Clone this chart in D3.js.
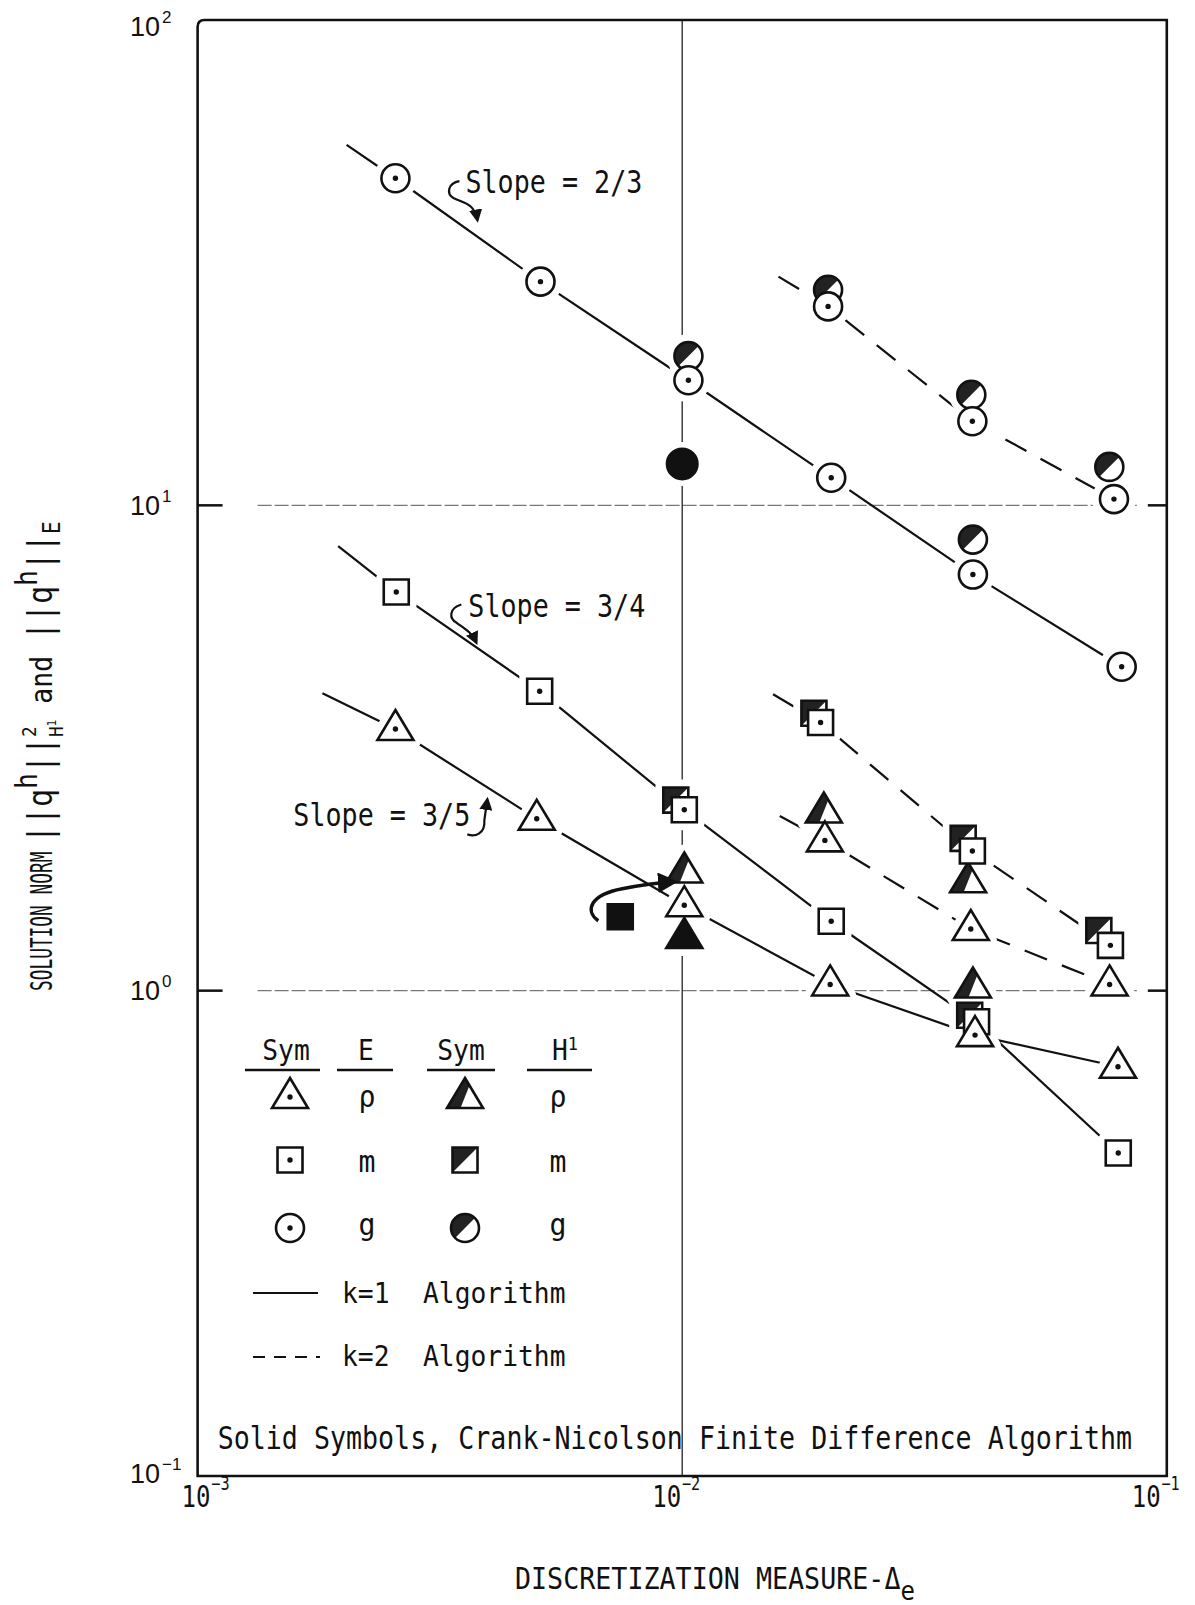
<!DOCTYPE html>
<html><head><meta charset="utf-8">
<script src="https://cdn.jsdelivr.net/npm/d3@7"></script>
<style>body{margin:0;background:#fff}</style>
</head><body>
<svg id="c" width="1195" height="1605"></svg>
<script>
// ---------------- data ----------------
const xTicks = [1e-3, 1e-2, 1e-1];
const xTickExp = ["\u22123", "\u22122", "\u22121"];
const yTicks = [1e2, 1e1, 1e0, 1e-1];
const yTickExp = ["2", "1", "0", "\u22121"];

// k=1 algorithm, E norm (open symbols)
const gE1X = [0.00256, 0.0051, 0.0103, 0.0203, 0.0398, 0.0807];
const gE1 = [47.2, 28.9, 18.1, 11.4, 7.20, 4.65];
const mE1X = [0.00257, 0.00508, 0.0101, 0.0203, 0.0405, 0.0794];
const mE1 = [6.63, 4.14, 2.36, 1.39, 0.863, 0.463];
const rhoE1X = [0.00256, 0.00501, 0.0101, 0.0202, 0.0402, 0.0793];
const rhoE1 = [3.46, 2.26, 1.50, 1.03, 0.810, 0.697];
// k=1 line upper-left extensions (g, m, rho)
const k1StartX = [0.00203, 0.00195, 0.00181];
const k1StartY = [55.3, 8.24, 4.10];

// k=1 algorithm, H1 norm (half-filled symbols)
const gH1k1X = [0.0103, 0.0398];
const gH1k1 = [20.3, 8.50];
const mH1k1X = [0.0097, 0.0392];
const mH1k1 = [2.47, 0.89];
const rhoH1k1X = [0.0101, 0.0398];
const rhoH1k1 = [1.76, 1.02];

// Crank-Nicolson (solid symbols)
const cnType = ["g", "m", "rho"];
const cnX = [0.01, 0.00745, 0.0101];
const cnY = [12.17, 1.42, 1.29];

// k=2 algorithm, E norm
const gE2X = [0.02, 0.0397, 0.0778];
const gE2 = [25.7, 14.9, 10.3];
const mE2X = [0.0193, 0.0397, 0.0765];
const mE2 = [3.57, 1.94, 1.24];
const rhoE2X = [0.0197, 0.0394, 0.0762];
const rhoE2 = [2.04, 1.34, 1.03];
// k=2 algorithm, H1 norm
const gH2X = [0.02, 0.0395, 0.0761];
const gH2 = [27.8, 16.9, 12.0];
const mH2X = [0.0187, 0.0380, 0.0724];
const mH2 = [3.73, 2.06, 1.33];
const rhoH2X = [0.0196, 0.0389];
const rhoH2 = [2.34, 1.68];
// k=2 line upper-left extensions (g, m, rho)
const k2StartX = [0.0158, 0.0154, 0.0159];
const k2StartY = [29.6, 4.08, 2.29];

// slope annotations
const slopeText = ["Slope = 2/3", "Slope = 3/4", "Slope = 3/5"];
const slopeX = [0.00357, 0.00362, 0.001576];
const slopeY = [44.0, 5.90, 2.18];

// ---------------- drawing ----------------
const MONO = "'DejaVu Sans Mono', monospace";
const SANS = "'Liberation Sans', Arial, sans-serif";
const svg = d3.select("#c");
svg.append("rect").attr("width", 1195).attr("height", 1605).attr("fill", "#fff");

const x = d3.scaleLog().domain([1e-3, 1e-1]).range([197.6, 1166.8]);
const y = d3.scaleLog().domain([1e-1, 1e2]).range([1476, 20]);
const [X0, X1] = x.range();
const [Y1, Y0] = y.range();

function txt(parent, px, py, str, fs, sx, opts = {}) {
  const g = parent.append("g")
    .attr("transform", `translate(${px},${py})${opts.rot ? " rotate(" + opts.rot + ")" : ""} scale(${sx},1)`);
  const t = g.append("text")
    .attr("font-family", opts.ff || MONO)
    .attr("font-size", fs)
    .attr("fill", "#111")
    .attr("text-anchor", opts.anchor || "start");
  if (str) t.text(str);
  return t;
}

// defs: arrowheads
const defs = svg.append("defs");
defs.append("marker").attr("id", "ah").attr("viewBox", "0 0 10 10")
  .attr("refX", 8).attr("refY", 5).attr("markerWidth", 6).attr("markerHeight", 6)
  .attr("orient", "auto").attr("markerUnits", "strokeWidth")
  .append("path").attr("d", "M0,0 L10,5 L0,10 Z").attr("fill", "#111");

// gridlines (partial, dashed)
const grid = svg.append("g");
[10, 1].forEach(v => {
  grid.append("line").attr("x1", X0 + 60).attr("x2", X1 - 30)
    .attr("y1", y(v)).attr("y2", y(v))
    .attr("stroke", "#777").attr("stroke-width", 1.4).attr("stroke-dasharray", "14 3");
});
// vertical 10^-2 line
grid.append("line").attr("x1", x(1e-2)).attr("x2", x(1e-2)).attr("y1", Y0).attr("y2", Y1)
  .attr("stroke", "#222").attr("stroke-width", 1.3);

// ticks
[10, 1].forEach(v => {
  grid.append("line").attr("x1", X0).attr("x2", X0 + 25).attr("y1", y(v)).attr("y2", y(v))
    .attr("stroke", "#111").attr("stroke-width", 2.5);
  grid.append("line").attr("x1", X1 - 19).attr("x2", X1).attr("y1", y(v)).attr("y2", y(v))
    .attr("stroke", "#111").attr("stroke-width", 2.5);
});

// frame
svg.append("path")
  .attr("d", `M${X0},${Y1} L${X0},${Y0 + 7} Q${X0},${Y0} ${X0 + 7},${Y0} L${X1},${Y0} L${X1},${Y1} Z`)
  .attr("fill", "none").attr("stroke", "#111").attr("stroke-width", 2.6);

// tick labels
const xDx = [-16, -30, -35];
xTicks.forEach((v, i) => {
  const t = txt(svg, x(v) + xDx[i], 1507, "", 30, 0.8, { anchor: "start" });
  t.append("tspan").text("10");
  t.append("tspan").attr("font-size", 19).attr("dy", -17).attr("dx", 1).text(xTickExp[i]);
});
const yDy = [16, 10, 9, 7];
yTicks.forEach((v, i) => {
  svg.append("text").attr("x", 160).attr("y", y(v) + yDy[i])
    .attr("font-family", SANS).attr("font-size", 27).attr("fill", "#111").attr("text-anchor", "end")
    .text("10");
  svg.append("text").attr("x", 162).attr("y", y(v) + yDy[i] - 13)
    .attr("font-family", SANS).attr("font-size", 17).attr("fill", "#111").text(yTickExp[i]);
});

// axis titles
{
  const t = txt(svg, 515, 1589, "", 30, 0.89);
  t.append("tspan").text("DISCRETIZATION MEASURE-\u0394");
  t.append("tspan").attr("dy", 11).attr("font-size", 27).text("e");
}
{
  txt(svg, 52, 991, "SOLUTION NORM", 31, 0.575, { rot: -90 });
  const t = txt(svg, 52, 843, "", 34, 0.88, { rot: -90 });
  t.append("tspan").text("||q");
  t.append("tspan").attr("dy", -15).attr("font-size", 30).text("h");
  t.append("tspan").attr("dy", 15).text("||");
  t.append("tspan").attr("dy", -16).attr("font-size", 20).text("2");
  t.append("tspan").attr("dy", 27).attr("dx", -12).attr("font-size", 20).text("H");
  t.append("tspan").attr("dy", -7).attr("font-size", 13).text("1");
  t.append("tspan").attr("dy", -4).attr("font-size", 30).text(" and ");
  t.append("tspan").text("||q");
  t.append("tspan").attr("dy", -15).attr("font-size", 30).text("h");
  t.append("tspan").attr("dy", 15).text("||");
  t.append("tspan").attr("dy", 8).attr("font-size", 24).text("E");
}

// ---------------- series lines ----------------
const lineGen = d3.line().x(d => x(d[0])).y(d => y(d[1]));
const lines = svg.append("g").attr("fill", "none").attr("stroke", "#111").attr("stroke-width", 2.2);
[[gE1X, gE1], [mE1X, mE1], [rhoE1X, rhoE1]].forEach(([xs, ys], i) => {
  const pts = [[k1StartX[i], k1StartY[i]]].concat(xs.map((xv, j) => [xv, ys[j]]));
  lines.append("path").attr("d", lineGen(pts));
});
[[gE2X, gE2], [mE2X, mE2], [rhoE2X, rhoE2]].forEach(([xs, ys], i) => {
  const pts = [[k2StartX[i], k2StartY[i]]].concat(xs.map((xv, j) => [xv, ys[j]]));
  lines.append("path").attr("d", lineGen(pts)).attr("stroke-dasharray", "24 16");
});

// ---------------- symbols ----------------
const TRI = { hw: 18, top: -19, bot: 11 };
const SQ = 25, R = 14;
function outlinePath(type) {
  if (type === "rho") return `M0,${TRI.top} L${TRI.hw},${TRI.bot} L${-TRI.hw},${TRI.bot} Z`;
  if (type === "m") return `M${-SQ / 2},${-SQ / 2} h${SQ} v${SQ} h${-SQ} Z`;
  return `M${-R},0 A${R},${R} 0 1 1 ${R},0 A${R},${R} 0 1 1 ${-R},0 Z`;
}
function halfPath(type) {
  if (type === "rho") {
    const h = TRI.bot - TRI.top;
    return `M0,${TRI.top} L${-TRI.hw},${TRI.bot} L${-TRI.hw + 0.75 * TRI.hw},${TRI.bot} L${0.25 * TRI.hw},${TRI.top + 0.25 * h} Z`;
  }
  if (type === "m") return `M${-SQ / 2},${SQ / 2} L${-SQ / 2},${-SQ / 2} L${SQ / 2},${-SQ / 2} Z`;
  const c = R * Math.SQRT1_2;
  return `M${-c},${c} A${R},${R} 0 0 1 ${c},${-c} Z`;
}

const symbols = [];
const add = (type, mode, xs, ys) => xs.forEach((xv, i) => symbols.push({ type, mode, x: xv, y: ys[i] }));
// half (H1) first so open symbols sit on top
add("g", "H", gH2X, gH2); add("m", "H", mH2X, mH2); add("rho", "H", rhoH2X, rhoH2);
add("g", "H", gH1k1X, gH1k1); add("m", "H", mH1k1X, mH1k1); add("rho", "H", rhoH1k1X, rhoH1k1);
cnType.forEach((t, i) => symbols.push({ type: t, mode: "CN", x: cnX[i], y: cnY[i] }));
add("g", "E", gE1X, gE1); add("m", "E", mE1X, mE1); add("rho", "E", rhoE1X, rhoE1);
add("g", "E", gE2X, gE2); add("m", "E", mE2X, mE2); add("rho", "E", rhoE2X, rhoE2);

function drawSymbol(g, type, mode, big) {
  const sc = big ? 1.08 : 1;
  const s = g.append("g").attr("transform", `scale(${sc})`);
  if (mode === "CN") {
    s.append("path").attr("d", outlinePath(type)).attr("fill", "#111").attr("stroke", "#111").attr("stroke-width", 2.6);
    return;
  }
  s.append("path").attr("d", outlinePath(type)).attr("fill", "#fff");
  if (mode === "H") s.append("path").attr("d", halfPath(type)).attr("fill", "#222");
  s.append("path").attr("d", outlinePath(type)).attr("fill", "none").attr("stroke", "#111").attr("stroke-width", 2.6);
  if (mode === "E") s.append("circle").attr("r", 2.7).attr("fill", "#111");
}

const symLayer = svg.append("g");
// halos
symLayer.selectAll("path.halo").data(symbols).join("path").attr("class", "halo")
  .attr("transform", d => `translate(${x(d.x)},${y(d.y)})`)
  .attr("d", d => outlinePath(d.type))
  .attr("fill", "#fff").attr("stroke", "#fff").attr("stroke-width", 16).attr("stroke-linejoin", "round");
symLayer.selectAll("g.sym").data(symbols).join("g").attr("class", "sym")
  .attr("transform", d => `translate(${x(d.x)},${y(d.y)})`)
  .each(function (d) { drawSymbol(d3.select(this), d.type, d.mode, d.mode === "CN" && d.type === "g"); });

// ---------------- annotations ----------------
const ann = svg.append("g");
slopeText.forEach((s, i) => {
  txt(ann, x(slopeX[i]), y(slopeY[i]), s, 32, 0.835);
});
const arrowStyle = p => p.attr("fill", "none").attr("stroke", "#111").attr("stroke-width", 2.2).attr("marker-end", "url(#ah)");
{
  const ax = x(slopeX[0]), ay = y(slopeY[0]);
  arrowStyle(ann.append("path").attr("transform", `translate(${ax},${ay})`)
    .attr("d", "M-6,-12 C-18,-10 -19,1 -12,5 C-2,10 9,10 12,27"));
}
{
  const ax = x(slopeX[1]), ay = y(slopeY[1]);
  arrowStyle(ann.append("path").attr("transform", `translate(${ax},${ay})`)
    .attr("d", "M-7,-12 C-20,-8 -19,2 -12,6 C-4,12 3,15 8,26"));
}
{
  const ax = x(slopeX[2]) + 173, ay = y(slopeY[2]);
  arrowStyle(ann.append("path").attr("transform", `translate(${ax},${ay})`)
    .attr("d", "M1,8 C9,11 19,7 18,-6 L21,-27"));
}
{
  // curved arrow from displaced CN square to its true position at 10^-2
  const ax = x(cnX[1]), ay = y(cnY[1]);
  ann.append("path").attr("transform", `translate(${ax},${ay})`)
    .attr("d", "M-22,4 C-36,-6 -30,-22 2,-28 C22,-32 38,-34 54,-35")
    .attr("fill", "none").attr("stroke", "#111").attr("stroke-width", 3.4).attr("marker-end", "url(#ah)");
}
txt(ann, x(0.0011), y(0.1136), "Solid Symbols, Crank-Nicolson Finite Difference Algorithm", 32, 0.833);

// ---------------- legend ----------------
const lg = svg.append("g");
const hdr = [["Sym", 286, 245, 320], ["E", 366, 337, 393], ["Sym", 461, 427, 495]];
hdr.forEach(([s, cx, u0, u1]) => {
  txt(lg, cx, 1060, s, 28, 0.94, { anchor: "middle" });
  lg.append("line").attr("x1", u0).attr("x2", u1).attr("y1", 1070).attr("y2", 1070).attr("stroke", "#111").attr("stroke-width", 2.6);
});
{
  const t = txt(lg, 552, 1060, "", 28, 0.94, { anchor: "start" });
  t.append("tspan").text("H");
  t.append("tspan").attr("dy", -10).attr("font-size", 18).text("1");
  lg.append("line").attr("x1", 527).attr("x2", 592).attr("y1", 1070).attr("y2", 1070).attr("stroke", "#111").attr("stroke-width", 2.6);
}
const legRows = [["rho", "\u03C1", 1097, 1107], ["m", "m", 1160, 1172], ["g", "g", 1228, 1235]];
legRows.forEach(([type, lab, cy, by]) => {
  drawSymbol(lg.append("g").attr("transform", `translate(290,${cy})`), type, "E");
  drawSymbol(lg.append("g").attr("transform", `translate(465,${cy})`), type, "H");
  txt(lg, 367, by, lab, 30, 0.94, { anchor: "middle" });
  txt(lg, 558, by, lab, 30, 0.94, { anchor: "middle" });
});
lg.append("line").attr("x1", 253).attr("x2", 318).attr("y1", 1293).attr("y2", 1293).attr("stroke", "#111").attr("stroke-width", 2.2);
lg.append("line").attr("x1", 253).attr("x2", 320).attr("y1", 1357).attr("y2", 1357).attr("stroke", "#111").attr("stroke-width", 2.2).attr("stroke-dasharray", "12 9");
txt(lg, 342, 1303, "k=1", 28, 0.94);
txt(lg, 342, 1366, "k=2", 28, 0.94);
txt(lg, 423, 1303, "Algorithm", 28, 0.94);
txt(lg, 423, 1366, "Algorithm", 28, 0.94);
</script>
</body></html>
